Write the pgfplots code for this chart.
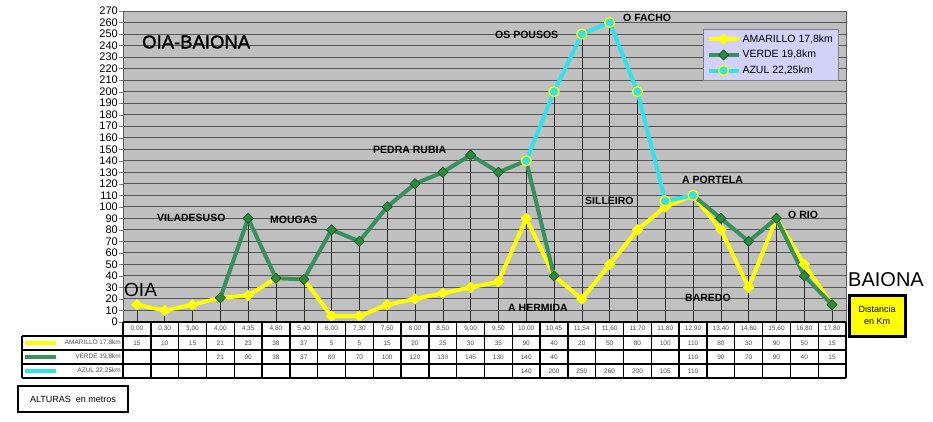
\documentclass[border=0pt]{standalone}
\usepackage{pgfplots}
\pgfplotsset{compat=1.18}
\usepackage{fontspec}
\setmainfont{Liberation Sans}
\definecolor{bggray}{HTML}{C0C0C0}
\definecolor{gridc}{HTML}{555555}
\definecolor{amar}{HTML}{FFFF00}
\definecolor{verde}{HTML}{3A8F5E}
\definecolor{verdem}{HTML}{2E8B3E}
\definecolor{verdeb}{HTML}{1A5A2A}
\definecolor{azul}{HTML}{33E1EA}
\definecolor{lav}{HTML}{D2D2F8}
\begin{document}
\begin{tikzpicture}[x=1pt,y=1pt]
\path (0,0) rectangle (933,-422);
\begin{axis}[
  at={(123pt,-322pt)}, anchor=south west,
  width=723pt, height=311pt, scale only axis,
  xmin=-0.5, xmax=25.5, ymin=0, ymax=270,
  xtick=\empty,
  ytick={0,10,...,270},
  ytick pos=left, tick align=outside, major tick length=4pt,
  ymajorgrids, grid style={draw=gridc, line width=1pt},
  axis background/.style={fill=bggray},
  axis line style={draw=gray!70!black, line width=1pt},
  /pgf/number format/assume math mode=true,
  yticklabel style={font=\fontsize{11}{11}\selectfont, inner sep=1pt},
  unbounded coords=jump,
  legend style={at={(0.802,0.942)}, anchor=north west, fill=lav, draw=gray,
    font=\fontsize{10.5}{12}\selectfont, row sep=2.5pt, inner sep=3.5pt},
  legend cell align=left,
  legend image code/.code={\draw[mark repeat=2,mark phase=2] plot coordinates {(0pt,0pt)(15pt,0pt)(30pt,0pt)};},
]
% drop lines
\addplot[ycomb, draw=gray!35!black, line width=0.5pt, forget plot] coordinates {
(0,15)(1,10)(2,15)(3,21)(4,90)(5,38)(6,37)(7,80)(8,70)(9,100)(10,120)(11,130)(12,145)(13,130)(14,140)(15,200)(16,250)(17,260)(18,200)(19,105)(20,110)(21,90)(22,70)(23,90)(24,50)(25,15)};
% AMARILLO
\addplot[color=amar, line width=4pt, line join=round, mark=square*, mark size=3.8pt,
  mark options={rotate=45, fill=amar, draw=amar, line width=0.5pt}] coordinates {
(0,15)(1,10)(2,15)(3,21)(4,23)(5,38)(6,37)(7,5)(8,5)(9,15)(10,20)(11,25)(12,30)(13,35)(14,90)(15,40)(16,20)(17,50)(18,80)(19,100)(20,110)(21,80)(22,30)(23,90)(24,50)(25,15)};
\addlegendentry{AMARILLO 17,8km}
% VERDE
\addplot[color=verde, line width=4pt, line join=round, mark=square*, mark size=3.6pt,
  mark options={rotate=45, fill=verdem, draw=verdeb, line width=0.8pt}] coordinates {
(3,21)(4,90)(5,38)(6,37)(7,80)(8,70)(9,100)(10,120)(11,130)(12,145)(13,130)(14,140)(15,40)(16,nan)(20,110)(21,90)(22,70)(23,90)(24,40)(25,15)};
\addlegendentry{VERDE 19,8km}
% AZUL
\addplot[color=azul, line width=4pt, line join=round, mark=*, mark size=5pt,
  mark options={fill=azul, draw=amar, line width=1.3pt}] coordinates {
(14,140)(15,200)(16,250)(17,260)(18,200)(19,105)(20,110)};
\addlegendentry{AZUL 22,25km}
\end{axis}
% place names
\begin{scope}[every node/.style={font=\bfseries\fontsize{10.5}{11}\selectfont, inner sep=0pt}]
\node[anchor=west] at (157,-218) {VILADESUSO};
\node[anchor=west] at (270,-220) {MOUGAS};
\node[anchor=west] at (373,-150) {PEDRA RUBIA};
\node[anchor=west] at (495,-35) {OS POUSOS};
\node[anchor=west] at (623,-18) {O FACHO};
\node[anchor=west] at (585,-201) {SILLEIRO};
\node[anchor=west] at (508,-308) {A HERMIDA};
\node[anchor=west] at (682,-180) {A PORTELA};
\node[anchor=west] at (788,-215) {O RIO};
\node[anchor=west] at (685,-298) {BAREDO};
\end{scope}
\node[anchor=west, inner sep=0pt, font=\fontsize{18.5}{20}\selectfont] at (142,-42) {\addfontfeature{FakeBold=1.5}OIA-BAIONA};
\node[anchor=west, inner sep=0pt, font=\fontsize{19}{20}\selectfont] at (124,-290) {OIA};
\node[anchor=west, inner sep=0pt, font=\fontsize{20}{21}\selectfont] at (848,-280) {BAIONA};
% Distancia box
\draw[line width=3pt, fill=amar] (849,-295) rectangle (905,-336);
\node[align=center, font=\fontsize{9}{12}\selectfont] at (877,-315.5) {Distancia\\en Km};
% ALTURAS box
\draw[line width=2pt] (18,-386) rectangle (128,-412);
\node[font=\fontsize{9}{10}\selectfont] at (73,-399) {ALTURAS\ \ en metros};
% table
\def\cw{27.8077}
\begin{scope}[line width=1.4pt]
\draw (123,-322) -- (846,-322);
\draw (123,-336) -- (846,-336);
\draw (22,-336) -- (22,-378);
\draw (22,-350) -- (846,-350);
\draw (22,-364) -- (846,-364);
\draw (22,-378) -- (846,-378);
\draw (22,-336) -- (123,-336);
\foreach \k in {0,...,26} {\draw (123+\k*\cw,-322) -- (123+\k*\cw,-378);}
\end{scope}
\begin{scope}[every node/.style={font=\fontsize{6.5}{7}\selectfont, text=gray!60!black, inner sep=0pt}]
\foreach \v [count=\i from 0] in {{0,00},{0,30},{3,00},{4,00},{4,35},{4,80},{5,40},{6,00},{7,30},{7,50},{8,00},{8,50},{9,00},{9,50},{10,00},{10,45},{11,54},{11,60},{11,70},{11,80},{12,90},{13,40},{14,60},{15,60},{16,80},{17,80}}
  {\node at (123+\i*\cw+0.5*\cw,-329) {\v};}
\foreach \v [count=\i from 0] in {15,10,15,21,23,38,37,5,5,15,20,25,30,35,90,40,20,50,80,100,110,80,30,90,50,15}
  {\node at (123+\i*\cw+0.5*\cw,-343) {\v};}
\foreach \v [count=\i from 0] in {{},{},{},21,90,38,37,80,70,100,120,130,145,130,140,40,{},{},{},{},110,90,70,90,40,15}
  {\node at (123+\i*\cw+0.5*\cw,-357) {\v};}
\foreach \v [count=\i from 0] in {{},{},{},{},{},{},{},{},{},{},{},{},{},{},140,200,250,260,200,105,110,{},{},{},{},{}}
  {\node at (123+\i*\cw+0.5*\cw,-371) {\v};}
\node[anchor=east] at (121,-343) {AMARILLO 17,8km};
\node[anchor=east] at (121,-357) {VERDE 19,8km};
\node[anchor=east] at (121,-371) {AZUL 22,25km};
\end{scope}
\draw[amar, line width=3.5pt] (25,-343) -- (56,-343);
\draw[verde, line width=3.5pt] (25,-357) -- (56,-357);
\draw[azul, line width=3.5pt] (25,-371) -- (56,-371);
\end{tikzpicture}
\end{document}
